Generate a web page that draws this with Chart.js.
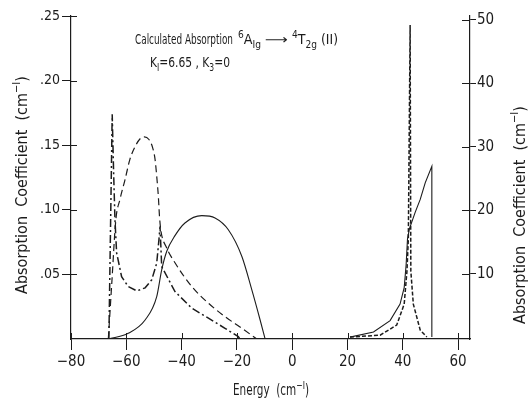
<!DOCTYPE html>
<html>
<head>
<meta charset="utf-8">
<script src="https://cdn.jsdelivr.net/npm/chart.js@4/dist/chart.umd.min.js"></script>
<style>
  html, body { margin: 0; padding: 0; background: #fff; }
  #wrap { width: 529px; height: 399px; position: relative; }
</style>
</head>
<body>
<div id="wrap"><canvas id="absorption-chart" width="529" height="399"></canvas></div>
<script>
// ───────────────────────── DATA ─────────────────────────
// left-hand curves, absorption coefficient in cm^-1 (left axis)
const solidLeftE   = [-66.5, -59.3, -53.2, -49.0, -47.2, -45.4, -42.4, -38.8, -32.7, -27.9, -23.1, -18.2, -14.6, -11.6, -9.8];
const solidLeftK   = [0, 0.0044, 0.0147, 0.0328, 0.0535, 0.0677, 0.0800, 0.0898, 0.0955, 0.0937, 0.0846, 0.0639, 0.038, 0.0147, 0];

const dashLeftE    = [-66.5, -65.2, -63.8, -62.3, -60.5, -58.7, -56.8, -55.0, -53.5, -51.8, -50.6, -49.6, -49.0, -48.4, -48.0, -47.5, -45.5, -42.4, -36.3, -30.3, -24.3, -18.2, -12.8];
const dashLeftK    = [0, 0.045, 0.092, 0.108, 0.123, 0.139, 0.149, 0.155, 0.1565, 0.1544, 0.149, 0.139, 0.126, 0.110, 0.095, 0.084, 0.071, 0.059, 0.0406, 0.0277, 0.0173, 0.0083, 0];

const dotDashLeftE = [-66.3, -65.1, -64.6, -64.1, -63.5, -61.7, -59.3, -56.2, -53.2, -50.8, -49.0, -48.2, -47.8, -47.2, -42.4, -36.3, -30.3, -24.3, -19.5, -18.9];
const dotDashLeftK = [0, 0.174, 0.13, 0.0923, 0.0667, 0.0483, 0.0406, 0.0372, 0.0396, 0.0458, 0.0587, 0.0768, 0.0871, 0.0561, 0.0367, 0.0238, 0.0161, 0.0083, 0.0018, 0];

// right-hand curves (right axis)
const solidRightE  = [20.9, 29.4, 35.4, 39.0, 40.5, 41.2, 41.7, 42.4, 43.3, 44.5, 46.3, 48.1, 50.5, 50.5];
const solidRightK  = [0, 0.8, 2.6, 5.2, 7.8, 11.4, 15.5, 17.1, 18.2, 19.7, 21.7, 24.3, 26.9, 0];

const dashRightE   = [20.9, 31.8, 37.8, 40.5, 41.5, 42.0, 42.65, 42.9, 43.8, 46.3, 48.7];
const dashRightK   = [0, 0.3, 1.9, 5.2, 10.4, 15.5, 49.2, 10.4, 5.2, 1.1, 0];

// tick labels
const xTickValues  = [-80, -60, -40, -20, 0, 20, 40, 60];
const yTickValues  = [0.05, 0.10, 0.15, 0.20, 0.25];
const y2TickValues = [10, 20, 30, 40, 50];

// ───────────────────────── HELPERS ─────────────────────────
const FONT = '"DejaVu Sans Condensed", "Liberation Sans Narrow", "Liberation Sans", sans-serif';
const INK  = "#1c1c1c";

const toPoints = (xs, ys) => xs.map((x, i) => ({ x, y: ys[i] }));

function curve(label, xs, ys, axis, dash, width, smooth) {
    return {
        label,
        data:        toPoints(xs, ys),
        yAxisID:     axis,
        borderColor: INK,
        borderWidth: width,
        borderDash:  dash,
        pointRadius: 0,
        tension:     smooth ? 0.4 : 0,
        cubicInterpolationMode: smooth ? "monotone" : "default",
        fill:        false,
    };
}

// text pieces {t, sup|sub}
function richWidth(ctx, parts, size) {
    let w = 0;
    parts.forEach(p => {
        ctx.font = ((p.sup || p.sub) ? Math.round(size * 0.7) : size) + "px " + FONT;
        w += ctx.measureText(p.t).width;
    });
    return w;
}

// sx squeezes the text horizontally (the original lettering is narrow)
function drawRich(ctx, parts, x, y, size, sx) {
    ctx.save();
    ctx.translate(x, y);
    ctx.scale(sx, 1);
    let cx = 0;
    parts.forEach(p => {
        const small = p.sup || p.sub;
        ctx.font = (small ? Math.round(size * 0.7) : size) + "px " + FONT;
        const dy = p.sup ? -size * 0.42 : (p.sub ? size * 0.3 : 0);
        ctx.fillText(p.t, cx, dy);
        cx += ctx.measureText(p.t).width;
    });
    ctx.restore();
}

// squeeze a piece so it runs from x0 to x1
function drawFit(ctx, parts, x0, x1, y, size) {
    const sx = (x1 - x0) / richWidth(ctx, parts, size);
    drawRich(ctx, parts, x0, y, size, sx);
}

// ───────────────────────── ANNOTATIONS PLUGIN ─────────────────────────
const annotations = {
    id: "annotations",
    afterDraw(chart) {
        const { ctx, chartArea, scales } = chart;
        ctx.save();
        ctx.fillStyle   = INK;
        ctx.strokeStyle = INK;
        ctx.lineWidth   = 1;
        ctx.textBaseline = "alphabetic";

        // ── ticks crossing into the plot ──
        scales.x.ticks.forEach(t => {
            const px = Math.round(scales.x.getPixelForValue(t.value)) + 0.5;
            ctx.beginPath(); ctx.moveTo(px, chartArea.bottom); ctx.lineTo(px, chartArea.bottom - 6); ctx.stroke();
        });
        scales.y.ticks.forEach(t => {
            const py = Math.round(scales.y.getPixelForValue(t.value)) + 0.5;
            ctx.beginPath(); ctx.moveTo(chartArea.left, py); ctx.lineTo(chartArea.left + 6, py); ctx.stroke();
        });
        scales.y2.ticks.forEach(t => {
            const py = Math.round(scales.y2.getPixelForValue(t.value)) + 0.5;
            ctx.beginPath(); ctx.moveTo(chartArea.right, py); ctx.lineTo(chartArea.right - 8, py); ctx.stroke();
        });

        // ── title (pieces placed as in the figure) ──
        drawFit(ctx, [{ t: "Calculated Absorption" }], 135, 233, 44, 14);
        drawFit(ctx, [{ t: "6", sup: true }, { t: "A" }, { t: "Ig", sub: true }], 238, 261, 44, 14);
        drawFit(ctx, [{ t: "\u27F6" }], 265, 288, 44, 13);
        drawFit(ctx, [{ t: "4", sup: true }, { t: "T" }, { t: "2g", sub: true }], 292, 317, 44, 14);
        drawFit(ctx, [{ t: "(II)" }], 321, 338, 44, 14);
        drawFit(ctx, [
            { t: "K" }, { t: "I", sub: true }, { t: "=6.65 , K" }, { t: "3", sub: true }, { t: "=0" },
        ], 150, 230, 67, 14);

        // ── axis titles ──
        const yTitle = [{ t: "Absorption  Coefficient  (cm" }, { t: "\u2212I", sup: true }, { t: ")" }];
        let w = richWidth(ctx, yTitle, 16);

        ctx.save();
        ctx.translate(27, 185);
        ctx.rotate(-Math.PI / 2);
        drawRich(ctx, yTitle, -w / 2, 0, 16, 1);
        ctx.restore();

        ctx.save();
        ctx.translate(525, 215);
        ctx.rotate(-Math.PI / 2);
        drawRich(ctx, yTitle, -w / 2, 0, 16, 1);
        ctx.restore();

        const xTitle = [{ t: "Energy  (cm" }, { t: "\u2212I", sup: true }, { t: ")" }];
        drawFit(ctx, xTitle, 233, 309, 395, 15);

        ctx.restore();
    }
};

// ───────────────────────── CHART SETUP ─────────────────────────
const tickFont = { family: FONT, size: 15 };

new Chart(document.getElementById("absorption-chart"), {
    type: "line",
    data: {
        datasets: [
            curve("solid, left",    solidLeftE,   solidLeftK,   "y",  [],           1.1, true),
            curve("dashed, left",   dashLeftE,    dashLeftK,    "y",  [7, 4],       1.2, true),
            curve("dot-dash, left", dotDashLeftE, dotDashLeftK, "y",  [8, 3, 2, 3], 1.5, false),
            curve("solid, right",   solidRightE,  solidRightK,  "y2", [],           1.1, false),
            curve("dashed, right",  dashRightE,   dashRightK,   "y2", [4, 2],       1.5, false),
        ]
    },
    options: {
        responsive: false,
        animation:  false,
        layout: { padding: { top: 16, left: 0, right: 0, bottom: 0 } },
        plugins: {
            legend:  { display: false },
            tooltip: { enabled: false },
        },
        scales: {
            x: {
                type: "linear",
                min: -80, max: 64.3,
                afterBuildTicks: s => { s.ticks = xTickValues.map(v => ({ value: v })); },
                afterFit: s => { s.height = 60; },
                ticks:  { color: INK, font: tickFont, padding: 3, maxRotation: 0,
                          callback: v => (v < 0 ? "\u2212" + Math.abs(v) : String(v)) },
                grid:   { drawOnChartArea: false, color: INK, tickLength: 11 },
                border: { color: INK, width: 1.2 },
            },
            y: {
                position: "left",
                min: 0, max: 0.25,
                afterBuildTicks: s => { s.ticks = yTickValues.map(v => ({ value: v })); },
                afterFit: s => { s.width = 71; },
                ticks:  { color: INK, font: { family: FONT, size: 14 }, padding: 2,
                          callback: v => v.toFixed(2).replace(/^0/, "") },
                grid:   { drawOnChartArea: false, color: INK, tickLength: 9 },
                border: { color: INK, width: 1.2 },
            },
            y2: {
                position: "right",
                min: -0.3, max: 50.6,
                afterBuildTicks: s => { s.ticks = y2TickValues.map(v => ({ value: v })); },
                afterFit: s => { s.width = 59; },
                ticks:  { color: INK, font: tickFont, padding: 1 },
                grid:   { drawOnChartArea: false, color: INK, tickLength: 6 },
                border: { color: INK, width: 1.2 },
            },
        }
    },
    plugins: [annotations]
});
</script>
</body>
</html>
